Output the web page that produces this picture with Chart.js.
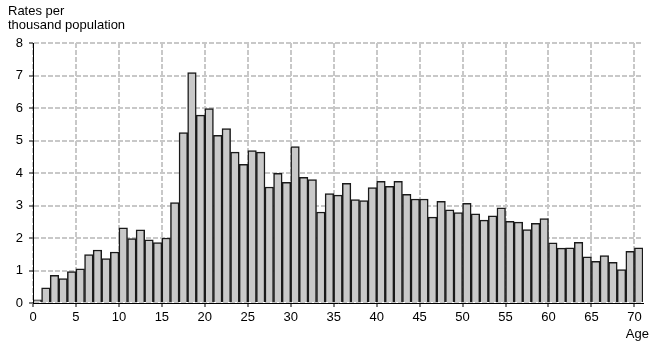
<!DOCTYPE html>
<html>
<head>
<meta charset="utf-8">
<script src="https://cdn.jsdelivr.net/npm/chart.js@4/dist/chart.umd.min.js"></script>
<style>
  html, body { margin: 0; padding: 0; background: #fff; }
  #wrap { width: 660px; height: 351px; position: relative; }
</style>
</head>
<body>
<div id="wrap"><canvas id="c" width="660" height="351"></canvas></div>
<script>
const ages = [0,1,2,3,4,5,6,7,8,9,10,11,12,13,14,15,16,17,18,19,20,21,22,23,24,25,26,27,28,29,30,31,32,33,34,35,36,37,38,39,40,41,42,43,44,45,46,47,48,49,50,51,52,53,54,55,56,57,58,59,60,61,62,63,64,65,66,67,68,69,70];
const rates = [0.10,0.47,0.85,0.75,0.97,1.05,1.49,1.63,1.37,1.57,
               2.31,1.98,2.25,1.94,1.86,2.00,3.09,5.24,7.09,5.78,
               5.98,5.16,5.37,4.64,4.27,4.69,4.64,3.57,3.99,3.71,
               4.81,3.87,3.80,2.80,3.37,3.32,3.68,3.18,3.15,3.55,
               3.74,3.59,3.74,3.34,3.20,3.20,2.64,3.13,2.87,2.78,
               3.07,2.74,2.55,2.68,2.93,2.51,2.49,2.26,2.45,2.60,
               1.85,1.69,1.70,1.87,1.42,1.28,1.46,1.25,1.03,1.59,1.70];
const xTicks = [0,5,10,15,20,25,30,35,40,45,50,55,60,65,70];
const yTicks = [0,1,2,3,4,5,6,7,8];
const yTitleLines = ["Rates per", "thousand population"];
const xTitle = "Age";

const FONT = "'Liberation Sans', Arial, sans-serif";

const textPlugin = {
  id: 'texts',
  afterDraw(chart) {
    const ctx = chart.ctx;
    ctx.save();
    ctx.fillStyle = '#000';
    ctx.font = "13px " + FONT;
    ctx.textBaseline = 'alphabetic';
    ctx.textAlign = 'left';
    ctx.fillText(yTitleLines[0], 8, 15);
    ctx.fillText(yTitleLines[1], 8, 29);
    ctx.textAlign = 'center';
    const xs = chart.scales.x;
    ctx.fillText(xTitle, xs.getPixelForValue(70) + 3, 338);
    ctx.restore();
  }
};

new Chart(document.getElementById('c'), {
  type: 'bar',
  data: {
    datasets: [{
      data: ages.map((a, i) => ({ x: a + 0.5, y: rates[i] })),
      backgroundColor: '#c9c9c9',
      borderColor: '#1a1a1a',
      borderWidth: 1.5,
      borderSkipped: 'start',
      barPercentage: 1,
      categoryPercentage: 1
    }]
  },
  options: {
    responsive: false,
    animation: false,
    events: [],
    layout: { padding: { top: 43, right: 17, left: 0, bottom: 0 } },
    plugins: { legend: { display: false }, tooltip: { enabled: false }, title: { display: false } },
    scales: {
      x: {
        type: 'linear',
        min: 0,
        max: 71,
        offset: false,
        afterBuildTicks(scale) { scale.ticks = xTicks.map(v => ({ value: v })); },
        afterFit(scale) { scale.height = 48; },
        ticks: { autoSkip: false, maxRotation: 0, color: '#000', font: { family: FONT, size: 13 }, padding: 3 },
        grid: { offset: false, color: '#c8c8c8', lineWidth: 2, tickColor: '#000', tickLength: 4, tickWidth: 1 },
        border: { display: true, color: '#000', width: 1, dash: [5, 2], z: 1 }
      },
      y: {
        min: 0,
        max: 8,
        afterBuildTicks(scale) { scale.ticks = yTicks.map(v => ({ value: v })); },
        afterFit(scale) { scale.width = 33; },
        ticks: { color: '#000', font: { family: FONT, size: 13 }, padding: 6 },
        grid: { color: '#c8c8c8', lineWidth: 2, tickColor: '#000', tickLength: 4, tickWidth: 1 },
        border: { display: true, color: '#000', width: 1, dash: [5, 2], z: 1 }
      }
    }
  },
  plugins: [textPlugin]
});
</script>
</body>
</html>
